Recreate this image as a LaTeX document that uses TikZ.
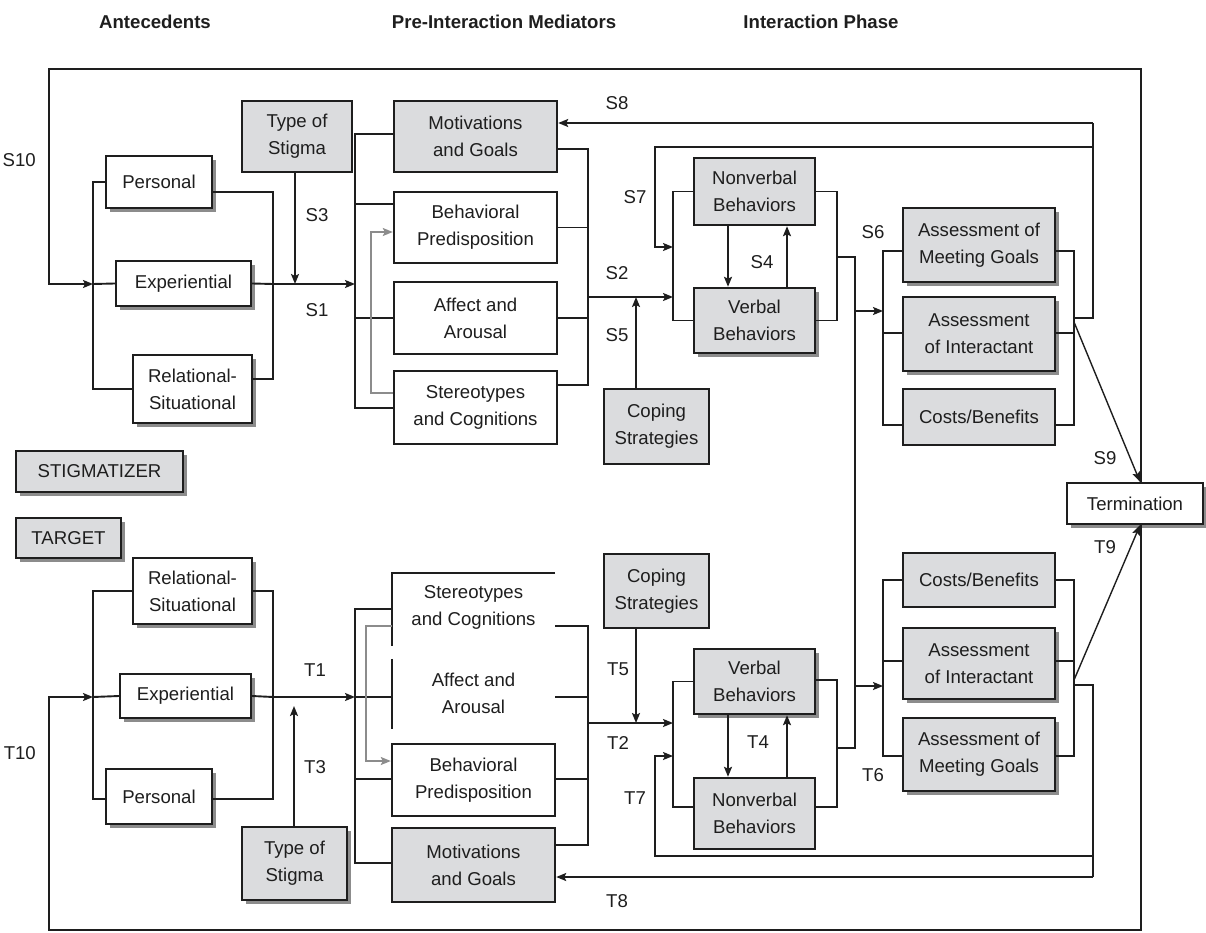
\documentclass[tikz,border=0pt]{standalone}
\usepackage{fontspec}
\setmainfont{Liberation Sans}
\usetikzlibrary{arrows.meta,shadows}
\definecolor{linec}{RGB}{30,30,30}
\definecolor{textc}{RGB}{30,30,30}
\definecolor{gfill}{RGB}{219,220,222}
\definecolor{shc}{RGB}{140,140,140}
\definecolor{feedc}{RGB}{140,140,140}
\tikzset{
  txt/.style={font=\fontsize{18.6}{27}\selectfont, text=textc, align=center, inner sep=0pt},
  wbox/.style={txt, draw=linec, line width=2.4pt, fill=white},
  gbox/.style={wbox, fill=gfill},
  shad/.style={drop shadow={shadow xshift=4pt, shadow yshift=-4pt, fill=shc, opacity=1}},
  hdr/.style={font=\fontsize{18.6}{22}\selectfont\bfseries, text=textc, inner sep=0pt},
  lbl/.style={txt},
  conn/.style={draw=linec, line width=1.9pt},
  arr/.style={conn, -{Stealth[length=10pt, width=8pt, inset=2pt]}},
  garr/.style={draw=feedc, line width=1.6pt, -{Stealth[length=10pt, width=8pt, inset=2pt]}},
  pline/.style={draw=linec, line width=2.4pt},
}
\begin{document}
\begin{tikzpicture}[x=1pt, y=-1pt]
\useasboundingbox (0,0) rectangle (1206,933);

% headers
\node[hdr] (hA) at (155,22) {Antecedents};
\node[hdr] (hP) at (504,22) {Pre-Interaction Mediators};
\node[hdr] (hI) at (821,22) {Interaction Phase};

% ===== Stigmatizer =====
\node[wbox, shad, minimum width=106pt, minimum height=52pt] (sPer) at (159,182) {Personal};
\node[wbox, shad, minimum width=135pt, minimum height=45pt] (sExp) at (183.5,283.5) {Experiential};
\node[wbox, shad, minimum width=119pt, minimum height=68pt] (sRel) at (192.5,389) {Relational-\\Situational};
\node[gbox, minimum width=110pt, minimum height=71pt] (sTyp) at (297,136.5) {Type of\\Stigma};
\node[gbox, minimum width=163pt, minimum height=71pt] (sMot) at (475.5,136.5) {Motivations\\and Goals};
\node[wbox, minimum width=163pt, minimum height=71pt] (sBeh) at (475.5,227.5) {Behavioral\\Predisposition};
\node[wbox, minimum width=163pt, minimum height=72pt] (sAff) at (475.5,318) {Affect and\\Arousal};
\node[wbox, minimum width=163pt, minimum height=73pt] (sSte) at (475.5,407.5) {Stereotypes\\and Cognitions};
\node[gbox, minimum width=105pt, minimum height=75pt] (sCop) at (656.5,426.5) {Coping\\Strategies};
\node[gbox, minimum width=121pt, minimum height=67pt] (sNon) at (754.5,191.5) {Nonverbal\\Behaviors};
\node[gbox, shad, minimum width=121pt, minimum height=65pt] (sVer) at (754.5,320.5) {Verbal\\Behaviors};
\node[gbox, shad, minimum width=152pt, minimum height=74pt] (sAMG) at (979,245) {Assessment of\\Meeting Goals};
\node[gbox, shad, minimum width=152pt, minimum height=74pt] (sAI) at (979,334) {Assessment\\of Interactant};
\node[gbox, minimum width=152pt, minimum height=56pt] (sCB) at (979,417) {Costs/Benefits};
\node[wbox, shad, minimum width=136pt, minimum height=41pt] (term) at (1135,503.5) {Termination};
\node[gbox, shad, minimum width=167pt, minimum height=41pt] (stig) at (99.5,471.5) {STIGMATIZER};
\node[gbox, shad, minimum width=105pt, minimum height=40pt] (targ) at (68.5,538) {TARGET};

% ===== Target =====
\node[wbox, shad, minimum width=119pt, minimum height=66pt] (tRel) at (192.5,591) {Relational-\\Situational};
\node[wbox, shad, minimum width=131pt, minimum height=44pt] (tExp) at (185.5,696) {Experiential};
\node[wbox, shad, minimum width=106pt, minimum height=55pt] (tPer) at (159,796.5) {Personal};
\node[gbox, shad, minimum width=105pt, minimum height=73pt] (tTyp) at (294.5,863.5) {Type of\\Stigma};
\node[txt, minimum width=163pt, minimum height=68pt] (tSte) at (473.5,607) {Stereotypes\\and Cognitions};
\node[txt, minimum width=163pt, minimum height=72pt] (tAff) at (473.5,693) {Affect and\\Arousal};
\node[wbox, minimum width=163pt, minimum height=72pt] (tBeh) at (473.5,780) {Behavioral\\Predisposition};
\node[gbox, minimum width=163pt, minimum height=74pt] (tMot) at (473.5,865) {Motivations\\and Goals};
\node[gbox, minimum width=105pt, minimum height=74pt] (tCop) at (656.5,591) {Coping\\Strategies};
\node[gbox, shad, minimum width=121pt, minimum height=65pt] (tVer) at (754.5,681.5) {Verbal\\Behaviors};
\node[gbox, minimum width=121pt, minimum height=71pt] (tNon) at (754.5,813.5) {Nonverbal\\Behaviors};
\node[gbox, minimum width=152pt, minimum height=54pt] (tCB) at (979,580) {Costs/Benefits};
\node[gbox, shad, minimum width=152pt, minimum height=71pt] (tAI) at (979,663.5) {Assessment\\of Interactant};
\node[gbox, shad, minimum width=152pt, minimum height=73pt] (tAMG) at (979,754.5) {Assessment of\\Meeting Goals};

% partial borders of the target stereotype / affect boxes
\draw[pline] (tSte.north east) -- (tSte.north west) -- ([yshift=-5pt]tSte.south west);
\draw[pline] ([yshift=-2pt]tAff.north west) -- (tAff.south west);

% ===== Stigmatizer connectors =====
\coordinate (sLin) at (93,284);
\coordinate (sRj) at (273,284);
\coordinate (sMj) at (355,284);
\draw[conn] (sPer.west) -| (sLin) |- (sRel.west);
\draw[conn] (sExp.west) -- (sLin);
\draw[arr] ([xshift=6pt]term.north) |- (49,69) |- (sLin);
\draw[conn] (sPer.east |- 0,192) -| (273,379) -- (sRel.east |- 0,379);
\draw[conn] (sExp.east) -- (sRj);
\draw[arr] (sRj) -- (sMj);
\draw[arr] (sTyp.south -| 295,0) -- (sMj -| 295,0);

\draw[conn] (sMot.west |- 0,134) -| (355,408) -- (sSte.west |- 0,408);
\draw[conn] (sBeh.west |- 0,204) -- (355,204);
\draw[conn] (sAff.west) -- (355,318);
\draw[conn] (sMot.east |- 0,149) -| (588,385) -- (sSte.east |- 0,385);
\draw[conn] (sBeh.east) -- (588,227.5);
\draw[conn] (sAff.east) -- (588,318);
\draw[garr] (sSte.west |- 0,393) -- (371,393) |- (sBeh.west |- 0,232);

\coordinate (sBj) at (673,297);
\draw[arr] (588,297) -- (sBj);
\draw[arr] (sCop.north -| 636,0) -- (636,297);
\draw[conn] (sNon.west) -| (673,320.5) -- (sVer.west);
\draw[arr] (sNon.south -| 728,0) -- (sVer.north -| 728,0);
\draw[arr] (sVer.north -| 787,0) -- (sNon.south -| 787,0);
\draw[conn] (sNon.east) -| (837,320.5) -- (sVer.east);

\draw[conn] (837,257) -| (855,748) -- (837,748);
\draw[arr] (855,311) -- (883,311);
\draw[arr] (855,686) -- (883,686);

\draw[conn] (sAMG.west |- 0,251) -| (883,425) -- (sCB.west |- 0,425);
\draw[conn] (sAI.west |- 0,333) -- (883,333);
\draw[conn] (sAMG.east |- 0,251) -| (1074,425) -- (sCB.east |- 0,425);
\draw[conn] (sAI.east |- 0,333) -- (1074,333);
\draw[conn] (1074,318) -| (1093,123);
\draw[arr] (1093,123) -- (sMot.east |- 0,123);
\draw[arr] (1093,147) -- (655,147) |- (673,247);
\draw[arr, line width=1.4pt] (1074,322) -- ([xshift=5pt]term.north);

% ===== Target connectors =====
\coordinate (tLin) at (93,697);
\coordinate (tRj) at (273,697);
\coordinate (tMj) at (355,697);
\draw[conn] (tRel.west) -| (93,799) -- (tPer.west |- 0,799);
\draw[conn] (tExp.west) -- (tLin);
\draw[arr] ([xshift=6pt]term.south) |- (49,930) |- (tLin);
\draw[conn] (tRel.east) -| (273,799) -- (tPer.east |- 0,799);
\draw[conn] (tExp.east) -- (tRj);
\draw[arr] (tRj) -- (tMj);
\draw[arr] (tTyp.north -| 294,0) -- (294,706);

\draw[conn] (tSte.west |- 0,609) -| (355,863) -- (tMot.west |- 0,863);
\draw[conn] (tAff.west |- 0,697) -- (355,697);
\draw[conn] (tBeh.west |- 0,779) -- (355,779);
\draw[conn] (tSte.east |- 0,626) -| (588,845) -- (tMot.east |- 0,845);
\draw[conn] (tAff.east |- 0,697) -- (588,697);
\draw[conn] (tBeh.east |- 0,779) -- (588,779);
\draw[garr] (tSte.west |- 0,626) -- (366,626) |- (tBeh.west |- 0,761);

\coordinate (tBj) at (673,723);
\draw[arr] (588,723) -- (tBj);
\draw[arr] (tCop.south -| 636,0) -- (636,723);
\draw[conn] (tVer.west) -| (673,807) -- (tNon.west |- 0,807);
\draw[arr] (tVer.south -| 728,0) -- (tNon.north -| 728,0);
\draw[arr] (tNon.north -| 787,0) -- (tVer.south -| 787,0);
\draw[conn] (tVer.east |- 0,680) -| (837,807) -- (tNon.east |- 0,807);

\draw[conn] (tCB.west) -| (883,756) -- (tAMG.west |- 0,756);
\draw[conn] (tAI.west |- 0,661) -- (883,661);
\draw[conn] (tCB.east) -| (1074,756) -- (tAMG.east |- 0,756);
\draw[conn] (tAI.east |- 0,661) -- (1074,661);
\draw[conn] (1074,685) -| (1093,877);
\draw[arr] (1093,877) -- (tMot.east |- 0,877);
\draw[arr] (1093,856) -- (655,856) |- (673,756);
\draw[arr, line width=1.4pt] (1074,680) -- ([xshift=5pt]term.south);

% ===== labels =====
\node[lbl, anchor=east] (lS10) at (36,160) {S10};
\node[lbl, anchor=east] (lT10) at (36,753) {T10};
\node[lbl] (lS3) at (317,215) {S3};
\node[lbl] (lS1) at (317,310) {S1};
\node[lbl] (lS8) at (617,103) {S8};
\node[lbl] (lS7) at (635,197) {S7};
\node[lbl] (lS2) at (617,273) {S2};
\node[lbl] (lS5) at (617,335) {S5};
\node[lbl] (lS4) at (762,262) {S4};
\node[lbl] (lS6) at (873,232) {S6};
\node[lbl] (lS9) at (1105,458) {S9};
\node[lbl] (lT1) at (315,670) {T1};
\node[lbl] (lT3) at (315,767) {T3};
\node[lbl] (lT5) at (618,669) {T5};
\node[lbl] (lT2) at (618,743) {T2};
\node[lbl] (lT7) at (635,798) {T7};
\node[lbl] (lT8) at (617,901) {T8};
\node[lbl] (lT4) at (758,742) {T4};
\node[lbl] (lT6) at (873,775) {T6};
\node[lbl] (lT9) at (1105,547) {T9};
\end{tikzpicture}
\end{document}
